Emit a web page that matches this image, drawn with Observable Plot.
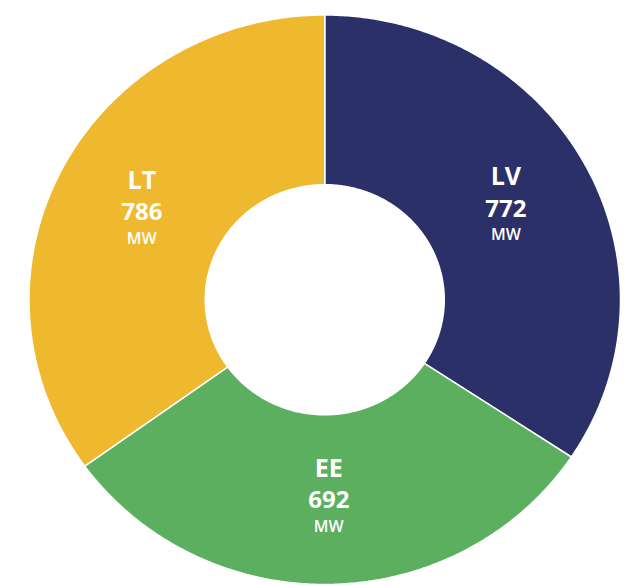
<!DOCTYPE html>
<html>
<head>
<meta charset="utf-8">
<script src="https://cdn.jsdelivr.net/npm/d3@7"></script>
<script src="https://cdn.jsdelivr.net/npm/@observablehq/plot@0.6"></script>
<style>
  html, body { margin: 0; padding: 0; background: #ffffff; }
  #chart svg { display: block; }
</style>
</head>
<body>
<div id="chart"></div>
<script>
// ---- Data ----
const regions = ["LV", "EE", "LT"];
const capacities = [772, 692, 786];
const unitLabel = "MW";
const sliceColors = ["#2b3068", "#5daf60", "#efb92f"];

// ---- Layout helpers (geometry derived from data via d3.pie) ----
const innerRatio = 0.404;
const labelRadius = 0.695;
const rows = regions.map((r, i) => ({ region: r, value: capacities[i] }));
const arcs = d3.pie().sort(null).value(d => d.value)(rows);

const polys = [];
const labels = [];
arcs.forEach(a => {
  const span = a.endAngle - a.startAngle;
  const n = Math.max(2, Math.ceil(span / (Math.PI / 360)));
  for (let k = 0; k <= n; k++) {
    const t = a.startAngle + span * k / n;
    polys.push({ region: a.data.region, x: Math.sin(t), y: Math.cos(t) });
  }
  for (let k = n; k >= 0; k--) {
    const t = a.startAngle + span * k / n;
    polys.push({ region: a.data.region, x: innerRatio * Math.sin(t), y: innerRatio * Math.cos(t) });
  }
  const mid = (a.startAngle + a.endAngle) / 2;
  labels.push({
    region: a.data.region,
    value: String(a.data.value),
    unit: unitLabel,
    x: labelRadius * Math.sin(mid),
    y: labelRadius * Math.cos(mid)
  });
});

const font = "'Open Sans', 'Noto Sans', sans-serif";

const chart = Plot.plot({
  width: 633,
  height: 586,
  margin: 0,
  style: { background: "#ffffff", fontFamily: font },
  x: { domain: [-1, 1], range: [28.5, 620], axis: null },
  y: { domain: [-1, 1], range: [584, 14.5], axis: null },
  color: { domain: regions, range: sliceColors },
  marks: [
    ...regions.map(r => Plot.line(polys.filter(d => d.region === r), {
      x: "x", y: "y",
      fill: sliceColors[regions.indexOf(r)],
      stroke: "#ffffff",
      strokeWidth: 1.5,
      curve: "linear-closed"
    })),
    Plot.text(labels, {
      x: "x", y: "y", text: "region", dy: -29,
      fill: "#ffffff", fontSize: 25, fontWeight: 700, fontFamily: font
    }),
    Plot.text(labels, {
      x: "x", y: "y", text: "value", dy: 3,
      fill: "#ffffff", fontSize: 24, fontWeight: 700, fontFamily: font
    }),
    Plot.text(labels, {
      x: "x", y: "y", text: "unit", dy: 29,
      fill: "#ffffff", fontSize: 16, fontWeight: 600, fontFamily: font
    })
  ]
});

document.getElementById("chart").appendChild(chart);
</script>
</body>
</html>
